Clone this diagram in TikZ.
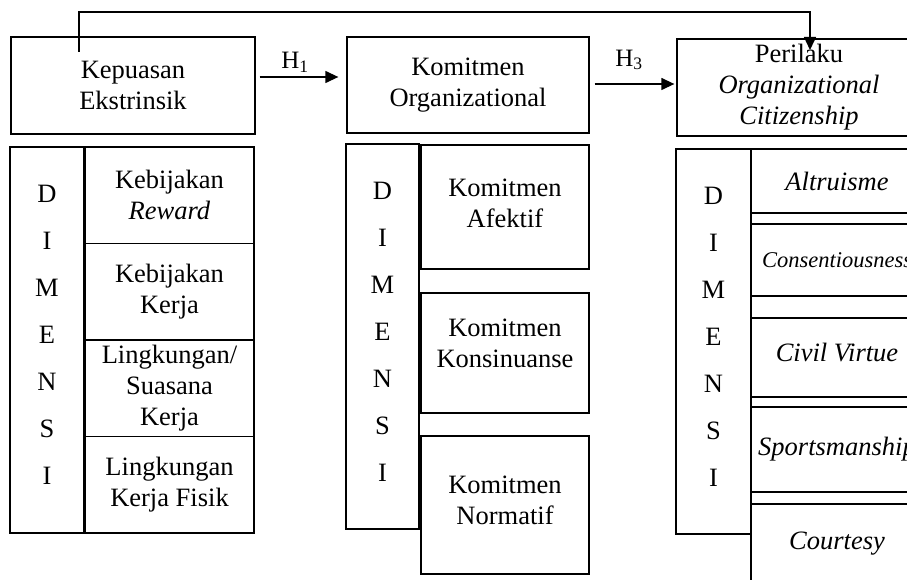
\documentclass[tikz,border=0pt]{standalone}
\usepackage{fontspec}
\setmainfont{Liberation Serif}
\usetikzlibrary{arrows.meta}

\tikzset{
  kotak/.style={draw, line width=1.3pt, align=center, inner sep=0pt,
    font=\fontsize{26.5}{31}\selectfont},
  dimensi/.style={kotak, font=\fontsize{26.5}{47}\selectfont, text depth=10pt},
  panah/.style={line width=1.3pt, -{Triangle[length=13pt,width=12pt]}},
  label/.style={inner sep=0pt, font=\fontsize{25}{28}\selectfont},
}

\begin{document}
\begin{tikzpicture}[x=1pt,y=-1pt]
\useasboundingbox (0,0) rectangle (907,580);
\clip (0,0) rectangle (907,580);

% variabel utama
\node[kotak, minimum width=244pt, minimum height=97pt] (kepuasan) at (133,85.5) {Kepuasan\\Ekstrinsik};
\node[kotak, minimum width=242pt, minimum height=96pt] (komitmen) at (468,85) {Komitmen\\Organizational};
\node[kotak, minimum width=244pt, minimum height=97pt] (perilaku) at (799,87.5) {Perilaku\\\textit{Organizational}\\\textit{Citizenship}};

% hipotesis
\node[label] (h1) at (295,62) {H\textsubscript{1}};
\node[label] (h3) at (629,60) {H\textsubscript{3}};
\draw[panah, shorten <=4pt, shorten >=8pt] (kepuasan.east |- 0,77) -- (komitmen.west |- 0,77);
\draw[panah, shorten <=5pt, shorten >=2pt] (komitmen.east |- 0,84) -- (perilaku.west |- 0,84);
\coordinate (awal) at (79,52);
\coordinate (akhir) at (810,50);
\draw[panah] (awal) -- ++(0,-40) -| (akhir);

% dimensi kepuasan
\node[dimensi, minimum width=74pt, minimum height=386pt] (dimkep) at (47,340) {D\\I\\M\\E\\N\\S\\I};
\node[kotak, minimum width=169pt, minimum height=96.5pt] (kep1) at (169.5,195.25) {Kebijakan\\\textit{Reward}};
\node[kotak, minimum width=169pt, minimum height=96.5pt] (kep2) at (169.5,291.75) {Kebijakan\\Kerja};
\node[kotak, minimum width=169pt, minimum height=96.5pt] (kep3) at (169.5,388.25) {Lingkungan/\\Suasana\\Kerja};
\node[kotak, minimum width=169pt, minimum height=96.5pt] (kep4) at (169.5,484.75) {Lingkungan\\Kerja Fisik};

% dimensi komitmen
\node[dimensi, minimum width=73pt, minimum height=385pt] (dimkom) at (382.5,336.5) {D\\I\\M\\E\\N\\S\\I};
\node[kotak, minimum width=168pt, minimum height=124pt, text depth=8pt] (kom1) at (505,207) {Komitmen\\Afektif};
\node[kotak, minimum width=168pt, minimum height=120pt, text depth=20pt] (kom2) at (505,353) {Komitmen\\Konsinuanse};
\node[kotak, minimum width=168pt, minimum height=138pt, text depth=10pt] (kom3) at (505,505) {Komitmen\\Normatif};

% dimensi perilaku
\node[dimensi, minimum width=75pt, minimum height=385pt] (dimper) at (713.5,341.5) {D\\I\\M\\E\\N\\S\\I};
\node[kotak, minimum width=172pt, minimum height=64pt] (per1) at (837,181) {\textit{Altruisme}};
\node[kotak, minimum width=172pt, minimum height=72pt, font=\fontsize{22.5}{26}\selectfont] (per2) at (837,260) {\textit{Consentiousness}};
\node[kotak, minimum width=172pt, minimum height=79pt, text depth=10pt] (per3) at (837,357.5) {\textit{Civil Virtue}};
\node[kotak, minimum width=172pt, minimum height=85pt] (per4) at (837,449.5) {\textit{Sportsmanship}};
\node[kotak, minimum width=172pt, minimum height=80pt] (per5) at (837,544) {\textit{Courtesy}};
\end{tikzpicture}
\end{document}
